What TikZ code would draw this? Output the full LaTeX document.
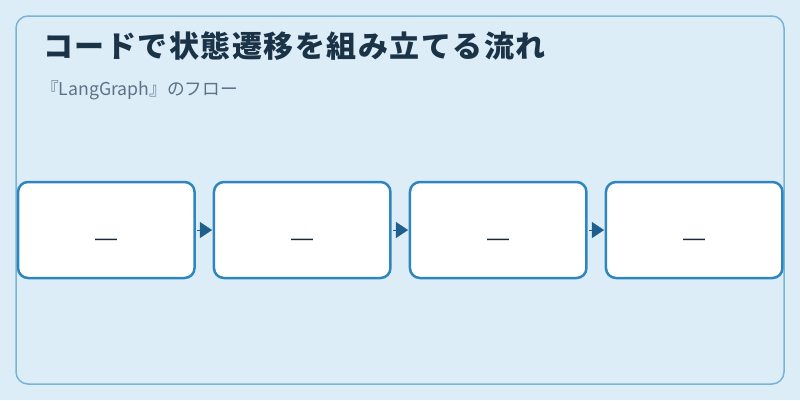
\documentclass[tikz,border=0pt]{standalone}
\usepackage{fontspec}
\setmainfont{Noto Sans CJK JP}
\newfontfamily\dashfont{Liberation Sans}
\usetikzlibrary{arrows.meta}
\definecolor{bgcol}{HTML}{DDEDF8}
\definecolor{framecol}{HTML}{7AB3D4}
\definecolor{boxcol}{HTML}{2E86C1}
\definecolor{arrowcol}{HTML}{1F5F8B}
\definecolor{titlecol}{HTML}{1B3347}
\definecolor{subcol}{HTML}{5D7286}
\definecolor{dashcol}{HTML}{1B2A3A}
\tikzset{
  stepbox/.style={draw=boxcol, fill=white, line width=2.5pt, rounded corners=10pt,
    minimum width=176.5pt, minimum height=96pt, inner sep=0pt, outer sep=0pt},
  dashtext/.style={anchor=base, inner sep=0pt, text=dashcol,
    font=\dashfont\fontsize{22pt}{24pt}\selectfont},
  flow/.style={arrowcol, line width=0.1pt, shorten <=2.5pt, shorten >=2pt,
    -{Triangle[length=12pt,width=16pt]}},
}
\begin{document}
\begin{tikzpicture}[x=1pt,y=-1pt]
\useasboundingbox[fill=bgcol] (0,0) rectangle (800,400);
\draw[framecol, line width=1.5pt, rounded corners=12pt] (16,16) rectangle (784,384);
\node[anchor=base west, text=titlecol, inner sep=0pt,
  font=\fontsize{30pt}{34pt}\selectfont\bfseries\addfontfeature{LetterSpace=5}]
  (title) at (43,57) {コードで状態遷移を組み立てる流れ};
\node[anchor=base west, text=subcol, inner sep=0pt,
  font=\fontsize{17.7pt}{20pt}\selectfont] (sub) at (41,95) {『LangGraph』のフロー};
\node[stepbox] (b1) at (106.3,230) {};
\node[stepbox] (b2) at (302.2,230) {};
\node[stepbox] (b3) at (498.2,230) {};
\node[stepbox] (b4) at (694.2,230) {};
\node[dashtext] (d1) at (106,245.5) {—};
\node[dashtext] (d2) at (302,245.5) {—};
\node[dashtext] (d3) at (498,245.5) {—};
\node[dashtext] (d4) at (694,245.5) {—};
\draw[flow] (b1) -- (b2);
\draw[flow] (b2) -- (b3);
\draw[flow] (b3) -- (b4);
\end{tikzpicture}
\end{document}
